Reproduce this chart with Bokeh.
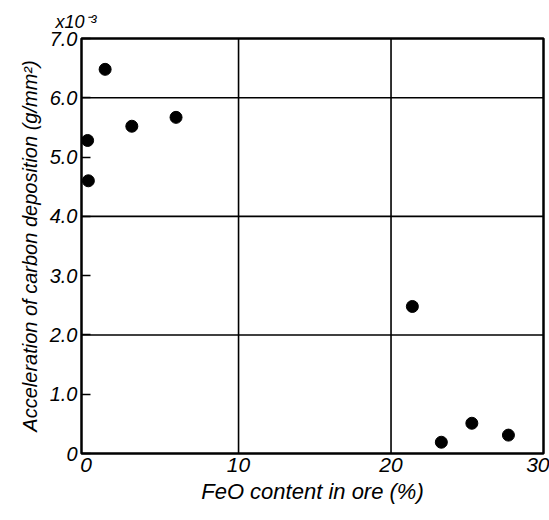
from bokeh.plotting import figure
from bokeh.models import FixedTicker, Span
from bokeh.embed import file_html
from bokeh.resources import INLINE

# Data
feo_pct = [0.1, 0.15, 1.25, 3.0, 5.9, 21.4, 23.3, 25.3, 27.7]
carbon_acc = [5.28, 4.6, 6.48, 5.52, 5.67, 2.48, 0.19, 0.51, 0.31]

x_ticks = [0, 10, 20, 30]
y_ticks = [0, 1, 2, 3, 4, 5, 6, 7]
y_tick_labels = ["0", "1.0", "2.0", "3.0", "4.0", "5.0", "6.0", "7.0"]
x_grid = [10, 20]
y_grid = [2, 4, 6]

FONT = "Liberation Sans"

p = figure(width=549, height=520, output_backend="svg", toolbar_location=None,
           x_range=(-0.3, 30), y_range=(0, 7.0),
           min_border_left=81, min_border_right=6, min_border_top=38, min_border_bottom=67)
p.background_fill_color = "white"
p.border_fill_color = "white"
p.outline_line_color = "black"
p.outline_line_width = 2.5
p.xgrid.visible = False
p.ygrid.visible = False

p.title.text = "x10⁻³"
p.title.align = "left"
p.title.offset = -26
p.title.text_font = FONT
p.title.text_font_style = "italic"
p.title.text_font_size = "18px"
p.title.text_color = "black"
p.title.standoff = 14

for xv in x_grid:
    p.add_layout(Span(location=xv, dimension="height", line_color="black", line_width=1.6))
for yv in y_grid:
    p.add_layout(Span(location=yv, dimension="width", line_color="black", line_width=1.6))

p.scatter(feo_pct, carbon_acc, size=12, color="black")

# X axis
p.xaxis.ticker = FixedTicker(ticks=x_ticks)
p.xaxis.minor_tick_line_color = None
p.xaxis.major_tick_in = 0
p.xaxis.major_tick_out = 0
p.xaxis.axis_line_color = None
p.xaxis.major_label_text_font = FONT
p.xaxis.major_label_text_font_style = "italic"
p.xaxis.major_label_text_font_size = "21px"
p.xaxis.major_label_text_color = "black"
p.xaxis.major_label_standoff = 4
p.xaxis.axis_label = "FeO content in ore (%)"
p.xaxis.axis_label_text_font = FONT
p.xaxis.axis_label_text_font_style = "italic"
p.xaxis.axis_label_text_font_size = "22px"
p.xaxis.axis_label_text_color = "black"
p.xaxis.axis_label_standoff = 4

# Y axis
p.yaxis.ticker = FixedTicker(ticks=y_ticks)
p.yaxis.major_label_overrides = {t: l for t, l in zip(y_ticks, y_tick_labels)}
p.yaxis.minor_tick_line_color = None
p.yaxis.major_tick_in = 9
p.yaxis.major_tick_out = 0
p.yaxis.major_tick_line_color = "black"
p.yaxis.major_tick_line_width = 1.5
p.yaxis.axis_line_color = None
p.yaxis.major_label_text_font = FONT
p.yaxis.major_label_text_font_style = "italic"
p.yaxis.major_label_text_font_size = "20px"
p.yaxis.major_label_text_color = "black"
p.yaxis.major_label_standoff = 4
p.yaxis.axis_label = "Acceleration of carbon deposition (g/mm²)"
p.yaxis.axis_label_text_font = FONT
p.yaxis.axis_label_text_font_style = "italic"
p.yaxis.axis_label_text_font_size = "20px"
p.yaxis.axis_label_text_color = "black"
p.yaxis.axis_label_standoff = 6

open("out.html", "w").write(file_html(p, INLINE))
